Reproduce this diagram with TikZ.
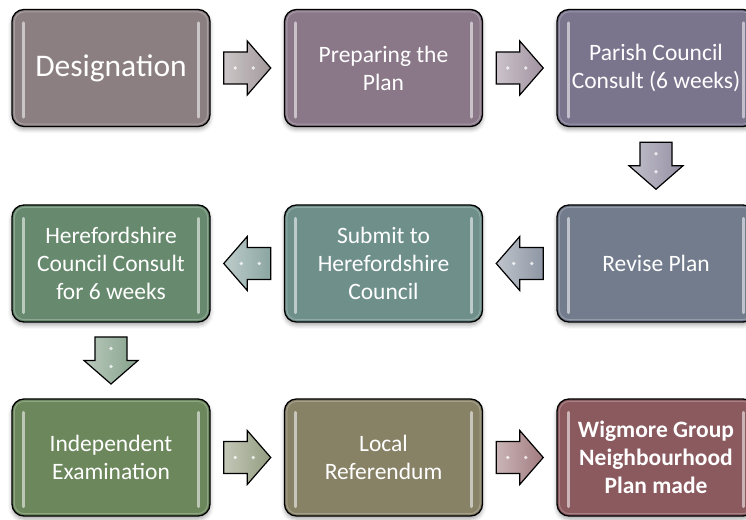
\documentclass[tikz,border=0pt]{standalone}
\usepackage{fontspec}
\setmainfont{Carlito}
\usetikzlibrary{calc,shadows.blur}
\definecolor{cA}{HTML}{8B7F82}
\definecolor{cB}{HTML}{8A7889}
\definecolor{cC}{HTML}{7A748D}
\definecolor{cD}{HTML}{727C8D}
\definecolor{cE}{HTML}{6E8F8A}
\definecolor{cF}{HTML}{678A6E}
\definecolor{cG}{HTML}{6C875C}
\definecolor{cH}{HTML}{878166}
\definecolor{cI}{HTML}{8A5A5F}
\definecolor{cGH}{HTML}{7A8461}
\tikzset{
  stage/.style={draw=black, line width=1.3pt, rounded corners=12pt,
    minimum width=198pt, minimum height=117pt, text=white, align=center,
    font=\fontsize{23.5}{28}\selectfont, inner sep=0pt,
    blur shadow={shadow xshift=0pt, shadow yshift=-3pt, shadow blur radius=4pt, shadow opacity=35}},
  gloss/.style={white, opacity=0.55, line width=3pt, line cap=round},
  rim/.style={white, opacity=0.25, line width=1pt, rounded corners=10pt},
  blockarr/.pic={
    \draw[line width=1.2pt, line join=miter, pic actions]
      (-23.5,-16) -- (0,-16) -- (0,-27) -- (23.5,0) -- (0,27) -- (0,16) -- (-23.5,16) -- cycle;
    \fill[white, opacity=0.75] (-12,0) circle (1.8) (6,0) circle (1.8);
  }
}
\begin{document}
\begin{tikzpicture}[x=1pt,y=1pt]
\useasboundingbox (0,0) rectangle (746,519);
\clip (0,0) rectangle (746,519);
% row 1
\node[stage, fill=cA, font=\fontsize{31.5}{36}\selectfont] (n1) at (111,451) {Designation};
\node[stage, fill=cB] (n2) at (383.5,451) {Preparing the\\Plan};
\node[stage, fill=cC] (n3) at (656,451) {Parish Council\\Consult (6 weeks)};
% row 2
\node[stage, fill=cD] (n6) at (656,255.5) {Revise Plan};
\node[stage, fill=cE] (n5) at (383.5,255.5) {Submit to\\Herefordshire\\Council};
\node[stage, fill=cF] (n4) at (111,255.5) {Herefordshire\\Council Consult\\for 6 weeks};
% row 3
\node[stage, fill=cG] (n7) at (111,61.5) {Independent\\Examination};
\node[stage, fill=cH] (n8) at (383.5,61.5) {Local\\Referendum};
\node[stage, fill=cI, font=\fontsize{23.5}{28}\selectfont\bfseries] (n9) at (656,61.5) {Wigmore Group\\Neighbourhood\\Plan made};
% gloss
\foreach \n in {n1,n2,n3,n4,n5,n6,n7,n8,n9}{
  \draw[gloss] ($(\n.north west)+(12,-14)$) -- ($(\n.south west)+(12,10)$);
  \draw[gloss] ($(\n.north east)+(-12,-14)$) -- ($(\n.south east)+(-12,10)$);
  \draw[rim] ($(\n.north west)+(3,-3)$) rectangle ($(\n.south east)+(-3,3)$);
}
% connectors
\coordinate (m12) at ($(n1.east)!0.5!(n2.west)$);
\coordinate (m23) at ($(n2.east)!0.5!(n3.west)$);
\coordinate (m36) at ($(n3.south)!0.5!(n6.north)$);
\coordinate (m65) at ($(n6.west)!0.5!(n5.east)$);
\coordinate (m54) at ($(n5.west)!0.5!(n4.east)$);
\coordinate (m47) at ($(n4.south)!0.5!(n7.north)$);
\coordinate (m78) at ($(n7.east)!0.5!(n8.west)$);
\coordinate (m89) at ($(n8.east)!0.5!(n9.west)$);
\pic[left color=cA!45!white, right color=cA!80!white] at (m12) {blockarr};
\pic[left color=cB!45!white, right color=cB!80!white] at (m23) {blockarr};
\pic[left color=cC!45!white, right color=cC!80!white, rotate=-90] at (m36) {blockarr};
\pic[left color=cD!45!white, right color=cD!80!white, rotate=180] at (m65) {blockarr};
\pic[left color=cE!45!white, right color=cE!80!white, rotate=180] at (m54) {blockarr};
\pic[left color=cF!45!white, right color=cF!80!white, rotate=-90] at (m47) {blockarr};
\pic[left color=cGH!45!white, right color=cGH!80!white] at (m78) {blockarr};
\pic[left color=cI!45!white, right color=cI!80!white] at (m89) {blockarr};
\end{tikzpicture}
\end{document}
